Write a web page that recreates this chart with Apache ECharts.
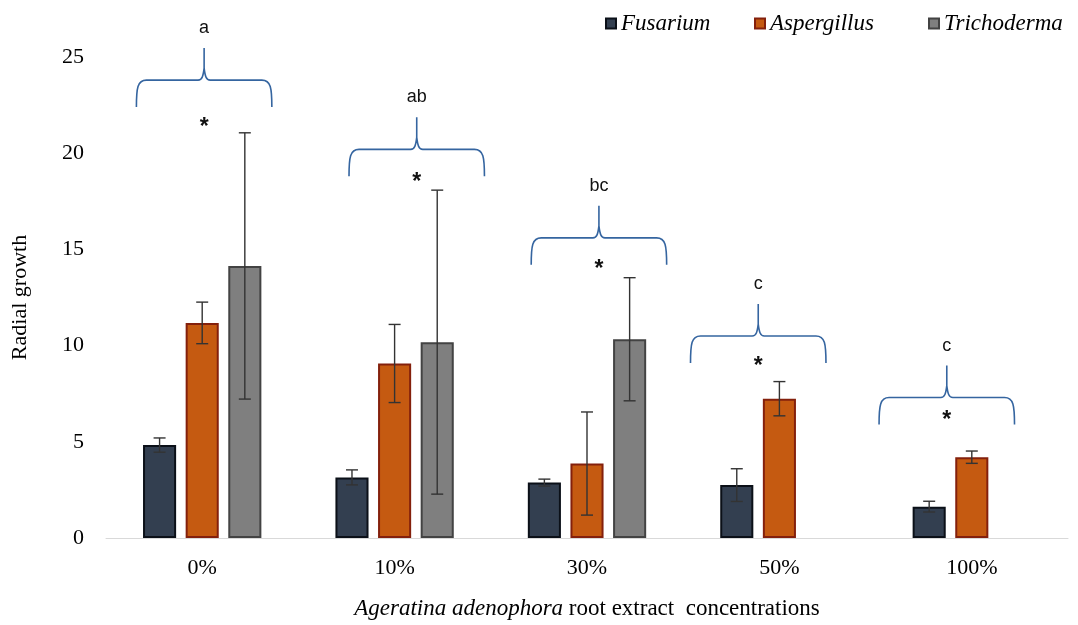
<!DOCTYPE html>
<html><head><meta charset="utf-8">
<script src="https://cdn.jsdelivr.net/npm/echarts@6/dist/echarts.min.js"></script>
<style>html,body{margin:0;padding:0;background:#fff}#c{width:1078px;height:625px}</style>
</head><body><div id="c"></div>
<script>
const categories = ['0%', '10%', '30%', '50%', '100%'];
const seriesNames = ['Fusarium', 'Aspergillus', 'Trichoderma'];
const fusarium = [4.83, 3.15, 2.88, 2.75, 1.63];
const fusariumErr = [0.37, 0.39, 0.18, 0.85, 0.28];
const aspergillus = [11.18, 9.07, 3.87, 7.24, 4.2];
const aspergillusErr = [1.08, 2.03, 2.68, 0.89, 0.32];
const trichoderma = [14.14, 10.18, 10.33, null, null];
const trichodermaErr = [6.92, 7.9, 3.2, null, null];
const yTicks = [0, 5, 10, 15, 20, 25];
const groupLetters = ['a', 'ab', 'bc', 'c', 'c'];
const braceLevel = [23.8, 20.2, 15.6, 10.5, 7.3];
const braceShift = [0.01, 0.115, 0.062, -0.11, -0.13];
const asteriskLevel = [21.6, 18.75, 14.2, 9.15, 6.35];

const values = [fusarium, aspergillus, trichoderma];
const errors = [fusariumErr, aspergillusErr, trichodermaErr];
const fills = ['#333f50', '#c55a11', '#7f7f7f'];
const borders = ['#0b1018', '#84200c', '#434343'];
const BW = 0.172, GAP = 0.288;

const errData = [];
values.forEach((arr, s) => arr.forEach((v, i) => {
  if (v != null) errData.push([i, s, v - errors[s][i], v + errors[s][i]]);
}));
const braceData = categories.map((c, i) => [i, braceLevel[i], braceShift[i], asteriskLevel[i]]);

const chart = echarts.init(document.getElementById('c'), null, {renderer: 'canvas'});
const serif = 'Liberation Serif, Times New Roman, serif';
const lineSty = {stroke: '#333333', lineWidth: 1.4};

const option = {
  backgroundColor: '#ffffff',
  animation: false,
  grid: {left: 106, right: 10, top: 57, bottom: 87, containLabel: false, outerBoundsMode: 'none'},
  legend: seriesNames.map((n, k) => ({
    data: [n], left: [600, 749, 923][k], top: 7, icon: 'rect', itemWidth: 10, itemHeight: 10,
    itemGap: 0, selectedMode: false,
    textStyle: {fontFamily: serif, fontStyle: 'italic', fontSize: 23, color: '#000'}
  })),
  xAxis: {
    type: 'category', data: categories,
    axisLine: {show: true, lineStyle: {color: '#d9d9d9', width: 1}},
    axisTick: {show: false},
    splitLine: {show: false},
    axisLabel: {fontFamily: serif, fontSize: 22, color: '#000', margin: 19},
    name: '{i|Ageratina adenophora} root extract  concentrations',
    nameLocation: 'middle', nameGap: 59,
    nameTextStyle: {fontFamily: serif, fontSize: 23, color: '#000',
      rich: {i: {fontFamily: serif, fontStyle: 'italic', fontSize: 23, color: '#000'}}}
  },
  yAxis: {
    type: 'value', min: yTicks[0], max: yTicks[yTicks.length - 1], interval: yTicks[1] - yTicks[0],
    axisLine: {show: false}, axisTick: {show: false}, splitLine: {show: false},
    axisLabel: {fontFamily: serif, fontSize: 22, color: '#000', margin: 22},
    name: 'Radial growth', nameLocation: 'middle', nameGap: 75, nameRotate: 90,
    nameTextStyle: {fontFamily: serif, fontSize: 22, color: '#000'}
  },
  series: [
    ...seriesNames.map((n, s) => ({
      name: n, type: 'bar', data: values[s],
      barWidth: (BW * 100) + '%', barGap: (GAP * 100) + '%',
      itemStyle: {color: fills[s], borderColor: borders[s], borderWidth: 2},
      emphasis: {disabled: true}, z: 2
    })),
    {
      type: 'custom', name: 'err', data: errData, encode: {x: 0, y: [2, 3]}, z: 5, clip: false,
      silent: true,
      renderItem: function (params, api) {
        const i = api.value(0), s = api.value(1);
        const band = api.size([1, 0])[0];
        const bw = band * BW;
        const off = (s - 1) * bw * (1 + GAP);
        const lo = api.coord([i, api.value(2)]);
        const hi = api.coord([i, api.value(3)]);
        const x = lo[0] + off, cap = 6;
        return {type: 'group', children: [
          {type: 'line', shape: {x1: x, y1: lo[1], x2: x, y2: hi[1]}, style: lineSty},
          {type: 'line', shape: {x1: x - cap, y1: lo[1], x2: x + cap, y2: lo[1]}, style: lineSty},
          {type: 'line', shape: {x1: x - cap, y1: hi[1], x2: x + cap, y2: hi[1]}, style: lineSty}
        ]};
      }
    },
    {
      type: 'custom', name: 'brace', data: braceData, encode: {x: 0, y: 1}, z: 6, clip: false,
      silent: true,
      renderItem: function (params, api) {
        const i = api.value(0);
        const band = api.size([1, 0])[0];
        const p = api.coord([i, api.value(1)]);
        const cx = p[0] + api.value(2) * band;
        const h = p[1];
        const w = band * 0.352;
        const a = api.coord([i, api.value(3)]);
        const d = 'M' + (cx - w) + ',' + (h + 27) +
          ' C' + (cx - w) + ',' + (h + 8) + ' ' + (cx - w + 1) + ',' + h + ' ' + (cx - w + 10) + ',' + h +
          ' L' + (cx - 6) + ',' + h +
          ' C' + (cx - 2) + ',' + h + ' ' + (cx - 1) + ',' + (h - 4) + ' ' + cx + ',' + (h - 12) +
          ' L' + cx + ',' + (h - 32) +
          ' M' + cx + ',' + (h - 12) +
          ' C' + (cx + 1) + ',' + (h - 4) + ' ' + (cx + 2) + ',' + h + ' ' + (cx + 6) + ',' + h +
          ' L' + (cx + w - 10) + ',' + h +
          ' C' + (cx + w - 1) + ',' + h + ' ' + (cx + w) + ',' + (h + 8) + ' ' + (cx + w) + ',' + (h + 27);
        return {type: 'group', children: [
          {type: 'path', shape: {pathData: d}, style: {stroke: '#3565a0', lineWidth: 1.6, fill: null}},
          {type: 'text', x: cx, y: h - 52, style: {text: groupLetters[params.dataIndex], fontFamily: 'Liberation Sans, Arial, sans-serif', fontSize: 18, fill: '#111', align: 'center', verticalAlign: 'middle'}},
          {type: 'text', x: cx, y: a[1] + 5, style: {text: '*', fontFamily: 'Liberation Sans, Arial, sans-serif', fontSize: 23, fontWeight: 'bold', fill: '#111', align: 'center', verticalAlign: 'middle'}}
        ]};
      }
    }
  ]
};
chart.setOption(option);
</script>
</body></html>
